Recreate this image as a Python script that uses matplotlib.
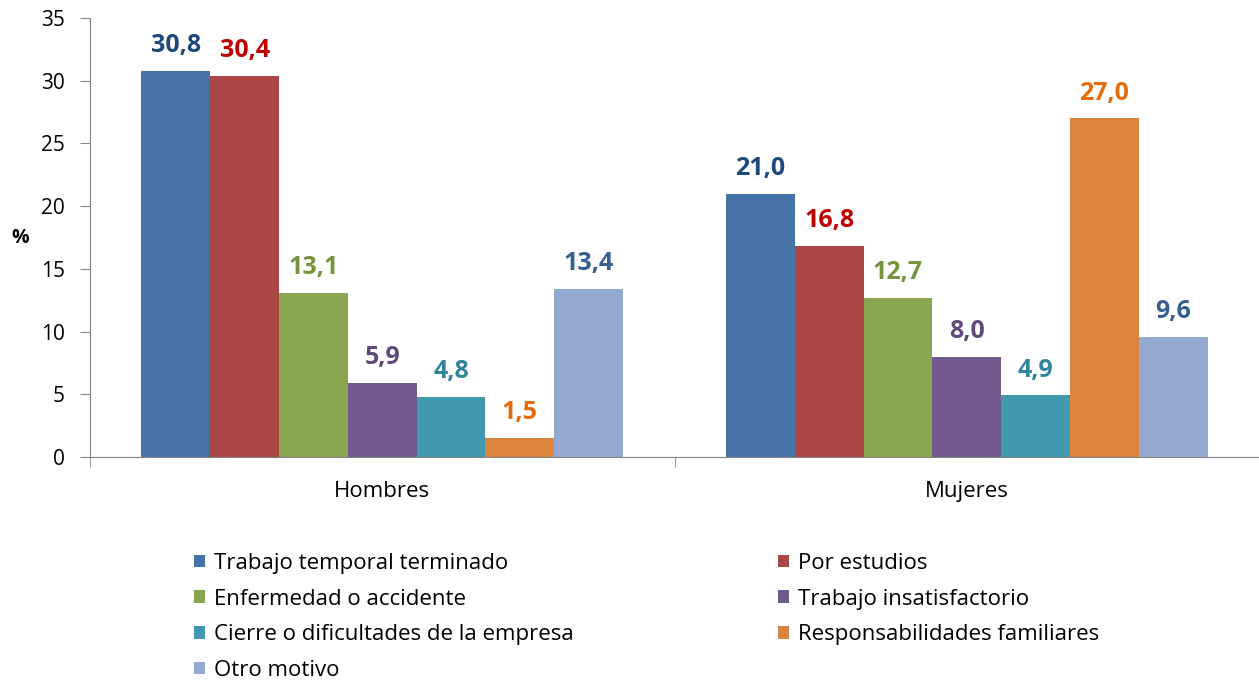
import matplotlib.pyplot as plt
import numpy as np
from matplotlib.patches import Patch

plt.rcParams['font.family'] = ['Open Sans', 'DejaVu Sans']

groups = ["Hombres", "Mujeres"]
motivos = ["Trabajo temporal terminado", "Por estudios", "Enfermedad o accidente",
           "Trabajo insatisfactorio", "Cierre o dificultades de la empresa",
           "Responsabilidades familiares", "Otro motivo"]
hombres = [30.8, 30.4, 13.1, 5.9, 4.8, 1.5, 13.4]
mujeres = [21.0, 16.8, 12.7, 8.0, 4.9, 27.0, 9.6]

bar_colors = ["#4572A7", "#AA4643", "#89A54E", "#71588F", "#4198AF", "#DB843D", "#93A9CF"]
label_colors = ["#1F497D", "#C00000", "#77933C", "#5F497A", "#31859C", "#E46C0A", "#376092"]

fig = plt.figure(figsize=(12.59, 6.81), dpi=100)
ax = fig.add_axes([0.0715, 0.329, 0.9285, 0.6446])

n = len(motivos)
width = 0.1177
x = np.arange(len(groups))
for i in range(n):
    vals = [hombres[i], mujeres[i]]
    pos = x - width * n / 2 + width * (i + 0.5)
    ax.bar(pos, vals, width=width, color=bar_colors[i], linewidth=0)
    for p, v in zip(pos, vals):
        ax.text(p, v + 1.5, f"{v:.1f}".replace(".", ","), ha="center", va="baseline",
                fontsize=18, fontweight="bold", color=label_colors[i])

ax.set_xlim(-0.5, 1.5)
ax.set_ylim(0, 35)
ax.set_yticks(range(0, 36, 5))
ax.set_xticks(x)
ax.set_xticklabels(groups, fontsize=16)
ax.set_xticks([-0.5, 0.5, 1.5], minor=True)
ax.tick_params(axis="x", which="major", length=0, pad=17)
ax.tick_params(axis="x", which="minor", length=7, color="#868686", direction="out")
ax.tick_params(axis="y", length=7, color="#868686", labelsize=15, pad=11)
for s in ["top", "right"]:
    ax.spines[s].set_visible(False)
for s in ["left", "bottom"]:
    ax.spines[s].set_color("#868686")
fig.text(20 / 1259, 1 - 238 / 681, "%", ha="center", va="center",
         fontsize=14, fontweight="bold")

handles = [Patch(facecolor=c, edgecolor="none") for c in bar_colors]
col1 = [0, 2, 4, 6]
col2 = [1, 3, 5]
for idx, xa in [(col1, 0.145), (col2, 0.609)]:
    fig.legend([handles[i] for i in idx], [motivos[i] for i in idx],
               loc="upper left", bbox_to_anchor=(xa, 0.2045), frameon=False,
               fontsize=16, handlelength=0.5, handleheight=0.5, handletextpad=0.4,
               labelspacing=0.66, borderpad=0)

fig.savefig("out.png", dpi=100)
